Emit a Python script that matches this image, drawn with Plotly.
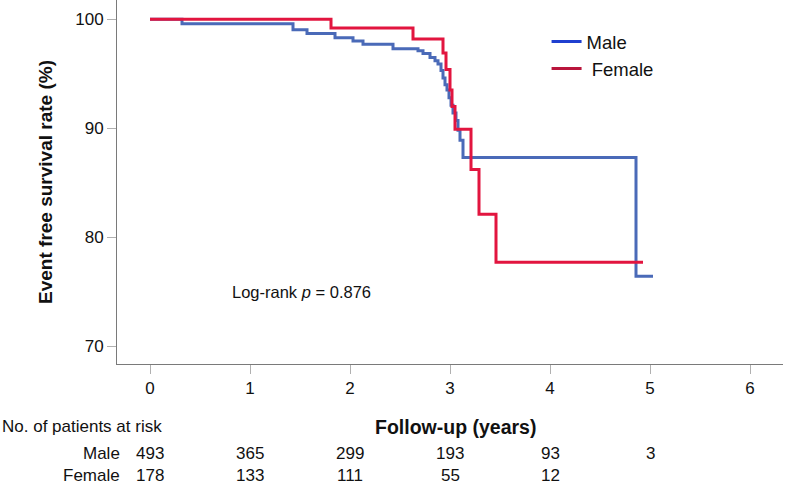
import plotly.graph_objects as go

# Kaplan-Meier step data (time in years, survival in %)
male_time = [0, 0.32, 1.43, 1.57, 1.85, 2.03, 2.13, 2.43, 2.68, 2.73, 2.80, 2.85,
             2.88, 2.91, 2.93, 2.95, 2.97, 2.99, 3.01, 3.03, 3.06, 3.08, 3.10, 3.13,
             4.86, 5.03]
male_surv = [100, 99.6, 99.05, 98.7, 98.3, 98.0, 97.7, 97.3, 97.1, 96.85, 96.5, 96.2,
             95.9, 95.3, 94.6, 94.0, 93.5, 92.8, 92.1, 91.4, 90.7, 89.8, 88.9, 87.3,
             76.4, 76.4]

female_time = [0, 1.81, 2.63, 2.93, 2.96, 3.00, 3.02, 3.05, 3.21, 3.29, 3.46, 4.93]
female_surv = [100, 99.2, 98.2, 96.9, 95.4, 93.5, 92.0, 89.9, 86.2, 82.1, 77.7, 77.7]

# patients at risk table
risk_years = [0, 1, 2, 3, 4, 5]
male_risk = [493, 365, 299, 193, 93, 3]
female_risk = [178, 133, 111, 55, 12]

x_ticks = [0, 1, 2, 3, 4, 5, 6]
y_ticks = [70, 80, 90, 100]

FONT = "Liberation Sans, Arial, sans-serif"
TXT = '#111'

fig = go.Figure()

fig.add_trace(go.Scatter(
    x=male_time, y=male_surv,
    mode='lines', line=dict(color='#4a6ab8', width=3, shape='hv'),
    showlegend=False
))
fig.add_trace(go.Scatter(
    x=female_time, y=female_surv,
    mode='lines', line=dict(color='#e2153f', width=3, shape='hv'),
    showlegend=False
))

# legend entries (legend swatches use slightly different colours in the original)
fig.add_trace(go.Scatter(x=[None], y=[None], mode='lines',
                         line=dict(color='#1f3fd0', width=3), name='Male'))
fig.add_trace(go.Scatter(x=[None], y=[None], mode='lines',
                         line=dict(color='#b9153c', width=3), name=' Female'))

# Log-rank annotation
fig.add_annotation(
    x=0.8, y=75.0, xref='x', yref='y', xanchor='left', yanchor='middle',
    text='Log-rank <i>p</i> = 0.876', showarrow=False,
    font=dict(size=16.5, color=TXT, family=FONT)
)

# risk table (rows placed in paper units below the plot area)
row_head, row_male, row_female = -0.173, -0.247, -0.306
fig.add_annotation(x=-0.1757, y=row_head, xref='paper', yref='paper', xanchor='left',
                   yanchor='middle', text='No. of patients at risk', showarrow=False,
                   font=dict(size=17, color=TXT, family=FONT))
fig.add_annotation(x=3.05, y=row_head, xref='x', yref='paper', xanchor='center',
                   yanchor='middle', text='<b>Follow-up (years)</b>', showarrow=False,
                   font=dict(size=19.5, color=TXT, family=FONT))
fig.add_annotation(x=0.0075, y=row_male, xref='paper', yref='paper', xanchor='right',
                   yanchor='middle', text='Male', showarrow=False,
                   font=dict(size=17, color=TXT, family=FONT))
fig.add_annotation(x=0.0075, y=row_female, xref='paper', yref='paper', xanchor='right',
                   yanchor='middle', text='Female', showarrow=False,
                   font=dict(size=17, color=TXT, family=FONT))
for yr, n in zip(risk_years, male_risk):
    fig.add_annotation(x=yr, y=row_male, xref='x', yref='paper', xanchor='center',
                       yanchor='middle', text=str(n), showarrow=False,
                       font=dict(size=17, color=TXT, family=FONT))
for yr, n in zip(risk_years, female_risk):
    fig.add_annotation(x=yr, y=row_female, xref='x', yref='paper', xanchor='center',
                       yanchor='middle', text=str(n), showarrow=False,
                       font=dict(size=17, color=TXT, family=FONT))

fig.update_layout(
    width=787, height=487,
    margin=dict(l=117, r=4, t=0, b=123),
    plot_bgcolor='white', paper_bgcolor='white',
    font=dict(family=FONT, size=17, color=TXT),
    legend=dict(x=0.645, y=0.937, xanchor='left', yanchor='top',
                font=dict(size=18.5, family=FONT, color=TXT),
                bgcolor='rgba(0,0,0,0)', tracegroupgap=0),
    xaxis=dict(
        range=[-0.33, 6.33], tickvals=x_ticks, showgrid=False, zeroline=False,
        showline=True, linecolor='#7a7a7a', linewidth=1,
        ticks='outside', ticklen=9, tickcolor='#b0b0b0', tickwidth=1,
        tickfont=dict(size=17, color=TXT, family=FONT)
    ),
    yaxis=dict(
        range=[68.35, 101.77], tickvals=y_ticks, showgrid=False, zeroline=False,
        showline=True, linecolor='#7a7a7a', linewidth=1,
        ticks='outside', ticklen=9, tickcolor='#b0b0b0', tickwidth=1,
        tickfont=dict(size=17, color=TXT, family=FONT),
        title=dict(text='<b>Event free survival rate (%)</b>', standoff=17,
                   font=dict(size=19, color=TXT, family=FONT))
    ),
)

fig.write_html("out.html", config={'displayModeBar': False},
               post_script="document.body.style.margin='0px';")
